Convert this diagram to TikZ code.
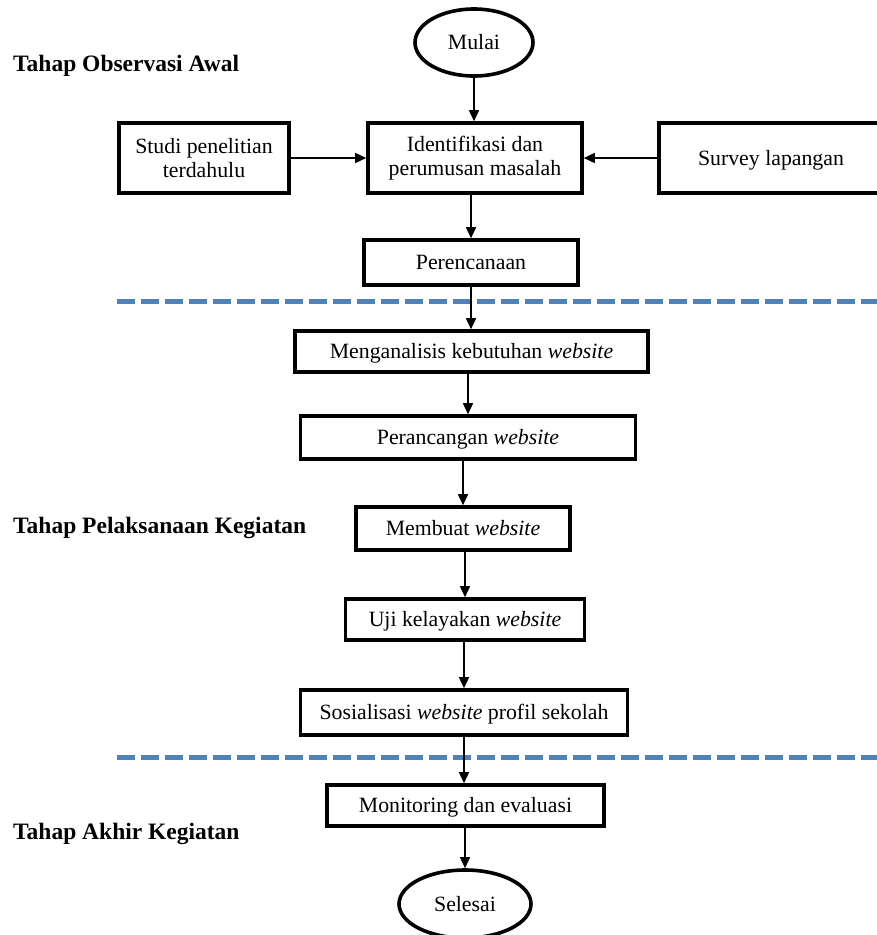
\documentclass[tikz,border=0pt]{standalone}
\usepackage{fontspec}
\setmainfont{Liberation Serif}
\usetikzlibrary{arrows.meta,shapes.geometric}
\definecolor{dashblue}{RGB}{79,129,189}
\tikzset{
  flowbox/.style={draw, line width=3.6pt, inner sep=0pt, align=center, font=\fontsize{21.8}{24}\selectfont},
  flowone/.style={flowbox, text height=18pt, text depth=3.6pt},
  termnode/.style={draw, ellipse, line width=3.6pt, inner sep=0pt, font=\fontsize{21.8}{24}\selectfont, text height=18pt, text depth=3.6pt},
  flowarr/.style={line width=1.5pt, -{Triangle[length=11pt,width=10pt]}},
  phasesep/.style={dashblue, line width=5pt, dash pattern=on 18pt off 6pt},
  phasetitle/.style={anchor=base west, inner sep=0pt, font=\fontsize{23.5}{28}\selectfont\bfseries},
}
\begin{document}
\begin{tikzpicture}[x=1pt,y=-1pt]
\useasboundingbox (0,0) rectangle (877,935);
% phase titles
\node[phasetitle] (p1) at (13,71) {Tahap Observasi Awal};
\node[phasetitle] (p2) at (13,533) {Tahap Pelaksanaan Kegiatan};
\node[phasetitle] (p3) at (13,839) {Tahap Akhir Kegiatan};
% separators
\draw[phasesep] (117,301) -- (877,301);
\draw[phasesep] (117,757) -- (877,757);
% nodes
\node[termnode, minimum width=118pt, minimum height=67pt] (mulai) at (474,42.5) {Mulai};
\node[flowbox, minimum width=170pt, minimum height=70pt] (studi) at (204,158) {Studi penelitian\\terdahulu};
\node[flowbox, minimum width=214pt, minimum height=70pt] (ident) at (475,158) {Identifikasi dan\\perumusan masalah};
\node[flowone, minimum width=224pt, minimum height=70pt] (survey) at (771,158) {Survey lapangan};
\node[flowone, minimum width=214pt, minimum height=45pt] (peren) at (471,262.5) {Perencanaan};
\node[flowone, minimum width=353pt, minimum height=41pt] (mengan) at (471.5,351.5) {Menganalisis kebutuhan \textit{website}};
\node[flowone, minimum width=335pt, minimum height=43pt] (peranc) at (468,437.5) {Perancangan \textit{website}};
\node[flowone, minimum width=214pt, minimum height=43pt] (membuat) at (463,528.5) {Membuat \textit{website}};
\node[flowone, minimum width=239pt, minimum height=41pt] (uji) at (465,619.5) {Uji kelayakan \textit{website}};
\node[flowone, minimum width=327pt, minimum height=45pt] (sosial) at (464,712.5) {Sosialisasi \textit{website} profil sekolah};
\node[flowone, minimum width=277pt, minimum height=41pt] (monit) at (465.5,805.5) {Monitoring dan evaluasi};
\node[termnode, minimum width=132pt, minimum height=68pt] (selesai) at (465,904) {Selesai};
% connectors
\draw[flowarr] (mulai.south) -- (mulai.south |- ident.north);
\draw[flowarr] (studi.east) -- (ident.west);
\draw[flowarr] (survey.west) -- (ident.east);
\draw[flowarr] (peren.north |- ident.south) -- (peren.north);
\draw[flowarr] (peren.south) -- (peren.south |- mengan.north);
\draw[flowarr] (peranc.north |- mengan.south) -- (peranc.north);
\draw[flowarr] (membuat.north |- peranc.south) -- (membuat.north);
\draw[flowarr] (uji.north |- membuat.south) -- (uji.north);
\draw[flowarr] (sosial.north |- uji.south) -- (sosial.north);
\draw[flowarr] (sosial.south) -- (sosial.south |- monit.north);
\draw[flowarr] (selesai.north |- monit.south) -- (selesai.north);
\end{tikzpicture}
\end{document}
